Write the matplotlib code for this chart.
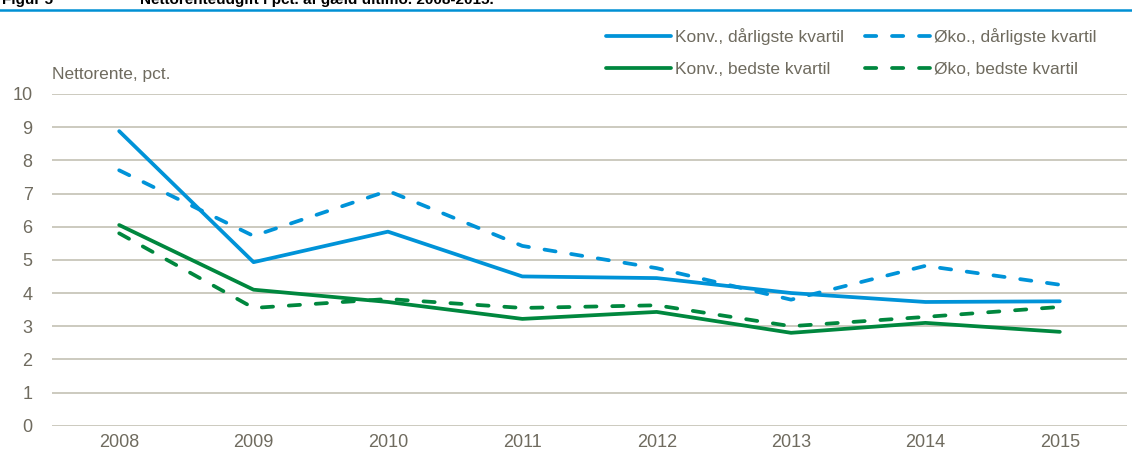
import matplotlib.pyplot as plt
from matplotlib.lines import Line2D

plt.rcParams['font.family'] = ['Liberation Sans Narrow', 'Liberation Sans', 'DejaVu Sans']

years = ["2008", "2009", "2010", "2011", "2012", "2013", "2014", "2015"]
konv_worst = [8.88, 4.93, 5.85, 4.50, 4.45, 4.00, 3.73, 3.75]
oeko_worst = [7.70, 5.72, 7.08, 5.42, 4.75, 3.80, 4.82, 4.25]
konv_best = [6.05, 4.10, 3.73, 3.22, 3.43, 2.80, 3.10, 2.83]
oeko_best = [5.80, 3.55, 3.82, 3.55, 3.63, 3.00, 3.28, 3.58]

BLUE = "#0093d8"
GREEN = "#00873e"
TXT = "#6f6b5f"
GRID = "#c3c1b4"

fig = plt.figure(figsize=(11.32, 4.61), dpi=100)
ax = fig.add_axes([52 / 1132, 35.3 / 461, 1075 / 1132, 331.7 / 461])

x = list(range(len(years)))
lw = 2.7
dash = (0, (3.0, 4.2))
ax.plot(x, konv_worst, color=BLUE, lw=lw, solid_capstyle="round", label="Konv., dårligste kvartil")
ax.plot(x, konv_best, color=GREEN, lw=lw, solid_capstyle="round", label="Konv., bedste kvartil")
ax.plot(x, oeko_worst, color=BLUE, lw=lw, ls=dash, dash_capstyle="round", label="Øko., dårligste kvartil")
ax.plot(x, oeko_best, color=GREEN, lw=lw, ls=dash, dash_capstyle="round", label="Øko, bedste kvartil")

ax.set_xlim(-0.5, len(years) - 0.5)
ax.set_ylim(0, 10)
ax.set_yticks(range(0, 11))
ax.set_xticks(x)
ax.set_xticklabels(years)
ax.yaxis.grid(True, color=GRID, lw=1.2)
ax.set_axisbelow(True)
for s in ax.spines.values():
    s.set_visible(False)
ax.tick_params(length=0, labelsize=13, colors=TXT)
ax.tick_params(axis="y", pad=14)
ax.tick_params(axis="x", pad=6)

ax.text(0, 1.035, "Nettorente, pct.", transform=ax.transAxes, fontsize=12.5,
        color=TXT, ha="left", va="bottom")

leg = fig.legend(loc="upper left", bbox_to_anchor=(590 / 1132, 1 - 12 / 461), ncol=2,
                 frameon=False, fontsize=12.5, handlelength=3.75, handletextpad=0.25,
                 columnspacing=1.2, labelspacing=1.0)
for t in leg.get_texts():
    t.set_color(TXT)

# cut-off title and rule at the top
fig.text(2 / 1132, 1 - 4 / 461, "Figur 5", fontsize=11, fontweight="bold",
         color="black", va="baseline", ha="left", family=["Liberation Sans", "DejaVu Sans"])
fig.text(140 / 1132, 1 - 4 / 461, "Nettorenteudgift i pct. af gæld ultimo. 2008-2015.",
         fontsize=11, fontweight="bold", color="black", va="baseline", ha="left",
         family=["Liberation Sans", "DejaVu Sans"])
fig.add_artist(Line2D([0, 1], [1 - 10 / 461, 1 - 10 / 461], transform=fig.transFigure,
                      color="#0090d4", lw=1.8))

fig.savefig("out.png", dpi=100)
